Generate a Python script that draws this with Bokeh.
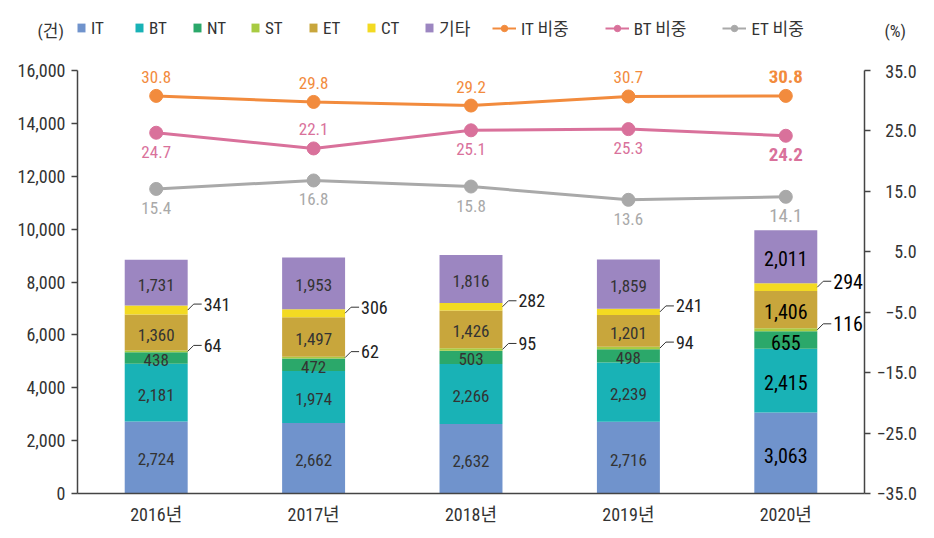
import numpy as np
from bokeh.plotting import figure
from bokeh.layouts import column
from bokeh.models import (Range1d, LinearAxis, FixedTicker, Legend, LegendItem,
                          ColumnDataSource, Label, NumeralTickFormatter, CustomJSTickFormatter)
from bokeh.core.properties import value
from bokeh.embed import file_html
from bokeh.resources import INLINE

# ---------------- data ----------------
categories = ["2016년", "2017년", "2018년", "2019년", "2020년"]
it_cnt = [2724, 2662, 2632, 2716, 3063]
bt_cnt = [2181, 1974, 2266, 2239, 2415]
nt_cnt = [438, 472, 503, 498, 655]
st_cnt = [64, 62, 95, 94, 116]
et_cnt = [1360, 1497, 1426, 1201, 1406]
ct_cnt = [341, 306, 282, 241, 294]
etc_cnt = [1731, 1953, 1816, 1859, 2011]
series_names = ["IT", "BT", "NT", "ST", "ET", "CT", "기타"]

it_share = [30.8, 29.8, 29.2, 30.7, 30.8]
bt_share = [24.7, 22.1, 25.1, 25.3, 24.2]
et_share = [15.4, 16.8, 15.8, 13.6, 14.1]
share_names = ["IT 비중", "BT 비중", "ET 비중"]

left_ticks = [0, 2000, 4000, 6000, 8000, 10000, 12000, 14000, 16000]
right_ticks = [-35, -25, -15, -5, 5, 15, 25, 35]
left_unit = "(건)"
right_unit = "(%)"

# ---------------- style ----------------
FONT = "Roboto Condensed, Liberation Sans Narrow, Roboto, Noto Sans CJK KR, sans-serif"
bar_colors = ["#7093cc", "#19b2b6", "#2ba86a", "#a8cb42", "#c8a63c", "#f3da22", "#9c86c1"]
share_colors = ["#f28b3d", "#d9719b", "#a9a9a9"]
AX = "#444444"
TXT = "#333333"

W, H = 934, 538
HEAD = 60
ML, MR, MT, MB = 77, 70, 10, 45
FW, FH = W - ML - MR, H - HEAD - MT - MB

xs = list(range(1, len(categories) + 1))
x_lo, x_hi = 0.5, len(categories) + 0.5
y_lo, y_hi = left_ticks[0], left_ticks[-1]
r_lo, r_hi = right_ticks[0], right_ticks[-1]
PX_X = (x_hi - x_lo) / FW
PX_Y = (y_hi - y_lo) / FH
PX_R = (r_hi - r_lo) / FH
BAR_W = 0.4

p = figure(width=W, height=H - HEAD, output_backend="svg", toolbar_location=None,
           x_range=Range1d(x_lo, x_hi), y_range=Range1d(y_lo, y_hi),
           min_border_left=ML, min_border_right=MR, min_border_top=MT, min_border_bottom=MB)
p.frame_align = False
p.extra_y_ranges = {"pct": Range1d(r_lo, r_hi)}
p.outline_line_color = None
p.grid.visible = False

# axes
p.xaxis.ticker = FixedTicker(ticks=xs)
p.xaxis.major_label_overrides = {x: c for x, c in zip(xs, categories)}
p.xaxis.major_tick_line_color = None
p.xaxis.major_tick_out = 0
p.xaxis.major_tick_in = 0
p.xaxis.major_label_standoff = 10

p.yaxis.ticker = FixedTicker(ticks=left_ticks)
p.yaxis.formatter = NumeralTickFormatter(format="0,0")

# right-axis labels padded with figure spaces so they line up on the right
raxis = LinearAxis(y_range_name="pct", ticker=FixedTicker(ticks=right_ticks),
                   formatter=CustomJSTickFormatter(code="""
                       const a = Math.abs(tick).toFixed(1);
                       let s = (tick < 0 ? '\\u2212' : '') + a;
                       while (s.length < 5) { s = '\\u2007' + s; }
                       return s;"""))
p.add_layout(raxis, "right")

for ax in [p.xaxis[0], p.yaxis[0], raxis]:
    ax.axis_line_color = AX
    ax.axis_line_width = 1.5
    ax.major_label_text_color = TXT
    ax.major_label_text_font = FONT
    ax.major_label_text_font_size = "18px"
    ax.minor_tick_line_color = None
for ax in [p.yaxis[0], raxis]:
    ax.major_tick_line_color = AX
    ax.major_tick_line_width = 1.5
    ax.major_tick_out = 6
    ax.major_tick_in = 0
    ax.major_label_standoff = 6

# stacked bars
keys = ["s%d" % i for i in range(len(series_names))]
series = [it_cnt, bt_cnt, nt_cnt, st_cnt, et_cnt, ct_cnt, etc_cnt]
src = ColumnDataSource(dict(x=xs, **{k: v for k, v in zip(keys, series)}))
bars = p.vbar_stack(keys, x="x", width=BAR_W, fill_color=bar_colors, line_color=None, source=src)

arr = np.array(series, dtype=float)
tops = np.cumsum(arr, axis=0)
mids = tops - arr / 2
last = len(xs) - 1

# labels inside bars
inner = [0, 1, 2, 4, 6]
lab = dict(x=[], y=[], text=[], color=[], size=[])
for k in inner:
    for j in range(len(xs)):
        lab["x"].append(xs[j])
        lab["y"].append(mids[k][j] - 2 * PX_Y)
        lab["text"].append(f"{series[k][j]:,}")
        lab["color"].append("#000000" if j == last else TXT)
        lab["size"].append("20px" if j == last else "17px")
p.text(x="x", y="y", text="text", source=ColumnDataSource(lab), text_align="center",
       text_baseline="middle", text_color="color", text_font_size="size", text_font=value(FONT))

# callouts for thin segments (ST, CT)
lx, ly, cl = [], [], dict(x=[], y=[], text=[], color=[], size=[])
for k in [3, 5]:
    for j in range(len(xs)):
        x0 = xs[j] + BAR_W / 2
        y0 = mids[k][j]
        y1 = y0 + 6 * PX_Y
        lx.append([x0, x0 + 6 * PX_X, x0 + 14 * PX_X])
        ly.append([y0, y1, y1])
        cl["x"].append(x0 + 16 * PX_X)
        cl["y"].append(y1)
        cl["text"].append(f"{series[k][j]:,}")
        cl["color"].append("#000000" if j == last else "#222222")
        cl["size"].append("20px" if j == last else "18px")
p.multi_line(lx, ly, line_color="#333333", line_width=1)
p.text(x="x", y="y", text="text", source=ColumnDataSource(cl), text_align="left",
       text_baseline="middle", text_color="color", text_font_size="size", text_font=value(FONT))

# share lines
shares = [it_share, bt_share, et_share]
sides = [[1, 1, 1, 1, 1], [-1, 1, -1, -1, -1], [-1, -1, -1, -1, -1]]
for s, c, nm, sd in zip(shares, share_colors, share_names, sides):
    p.line(xs, s, y_range_name="pct", line_width=3, line_color=c)
    p.scatter(xs, s, y_range_name="pct", size=13, fill_color=c, line_color=c)
    d = dict(x=xs, y=[v + side * 19 * PX_R for v, side in zip(s, sd)],
             text=[f"{v:.1f}" for v in s],
             size=["19px" if j == last else "17px" for j in range(len(xs))],
             style=["bold" if (j == last and nm != share_names[2]) else "normal" for j in range(len(xs))])
    p.text(x="x", y="y", text="text", source=ColumnDataSource(d), y_range_name="pct",
           text_align="center", text_baseline="middle", text_color=c,
           text_font_size="size", text_font_style="style", text_font=value(FONT))

# ---------------- header with legend ----------------
h = figure(width=W, height=HEAD, output_backend="svg", toolbar_location=None,
           x_range=Range1d(0, W), y_range=Range1d(0, HEAD),
           x_axis_location=None, y_axis_location=None, min_border=0)
h.frame_align = False
h.outline_line_color = None
h.grid.visible = False

# legend proxies: one point each, far outside the header's visible range
OFF_X, OFF_Y = [-5000], [-5000]
bar_proxies = [h.vbar(x=OFF_X, top=OFF_Y, bottom=[-5001], width=1, fill_color=c, line_color=None)
               for c in bar_colors]
line_proxies = []
for c in share_colors:
    rl = h.line(x=[-5000, -4990], y=[-5000, -5000], line_width=2, line_color=c)
    rs = h.scatter(x=OFF_X, y=OFF_Y, size=8, fill_color=c, line_color=c)
    line_proxies.append([rl, rs])

common = dict(orientation="horizontal", padding=0, margin=0, border_line_color=None,
              background_fill_alpha=0, label_text_font=FONT, label_text_font_size="17px",
              label_text_color=TXT, label_standoff=5, label_height=20)
LEG_Y = HEAD - 40
bar_leg = Legend(items=[LegendItem(label=n, renderers=[r]) for n, r in zip(series_names, bar_proxies)],
                 location=(76, LEG_Y), glyph_width=10, glyph_height=11, spacing=23, **common)
line_leg = Legend(items=[LegendItem(label=n, renderers=rr) for n, rr in zip(share_names, line_proxies)],
                  location=(492, LEG_Y), glyph_width=24, glyph_height=16, spacing=36, **common)
h.add_layout(bar_leg, "center")
h.add_layout(line_leg, "center")

h.add_layout(Label(x=37, y=HEAD - 30, x_units="screen", y_units="screen", text=left_unit,
                   text_font=FONT, text_font_size="17px", text_color=TXT, text_baseline="middle",
                   text_align="left"))
h.add_layout(Label(x=884, y=HEAD - 30, x_units="screen", y_units="screen", text=right_unit,
                   text_font=FONT, text_font_size="17px", text_color=TXT, text_baseline="middle",
                   text_align="left"))

layout = column(h, p, spacing=0)
open("out.html", "w").write(file_html(layout, INLINE))
